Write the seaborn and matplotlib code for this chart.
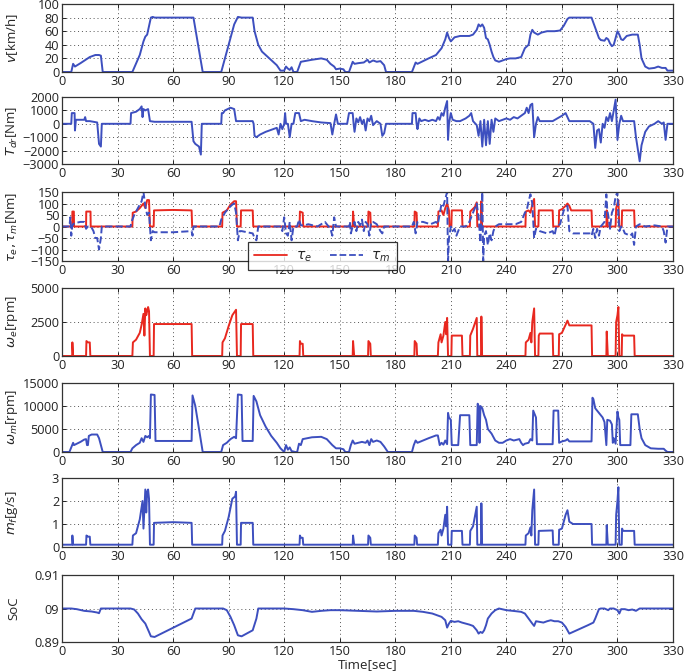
import numpy as np
import pandas as pd
import matplotlib
matplotlib.use("Agg")
import matplotlib.pyplot as plt
import seaborn as sns

# ---------------- data (time [s], value) ----------------
v_pts = [(0,0),(5,0),(6,12),(7,8),(10,13),(15,22),(18,25),(20,25),(21,24),(22,0),(38,0),(42,25),(44,45),
         (45,52),(46,55),(48,80),(49,81),(50,80),(71,80),(76,0),(86,0),(90,40),(93,70),(95,81),(97,80),
         (103,80),(104,60),(106,40),(108,30),(112,20),(116,10),(118,2),(120,2),(121,8),(122,5),(123,3),
         (124,7),(125,0),(127,0),(129,15),(135,18),(140,20),(143,18),(145,12),(147,8),(148,4),(150,5),
         (152,4),(153,0),(155,0),(157,15),(158,12),(160,13),(163,14),(165,18),(166,14),(168,17),(170,15),
         (172,16),(174,10),(175,0),(189,0),(191,14),(192,12),(195,16),(198,20),(202,25),(205,35),(207,48),
         (208,58),(209,50),(210,45),(212,51),(215,53),(220,53),(222,55),(224,62),(225,70),(226,67),(227,70),
         (228,65),(229,50),(230,48),(231,40),(232,30),(233,22),(234,17),(236,15),(238,17),(240,19),(242,20),
         (245,20),(248,22),(250,35),(252,40),(253,55),(254,62),(255,58),(257,55),(259,58),(262,60),(266,60),
         (269,61),(271,68),(273,78),(274,80),(286,80),(288,65),(290,50),(291,47),(293,46),(294,50),(295,48),
         (296,42),(297,38),(298,40),(300,60),(301,55),(302,48),(303,47),(305,53),(308,55),(311,55),(312,40),
         (313,20),(315,8),(317,5),(320,6),(322,8),(324,6),(326,6),(327,2),(330,2)]

tdr_pts = [(0,0),(5,0),(5.3,800),(6.8,800),(7,-500),(7.5,300),(12,300),(12.5,500),(13,200),(15,200),(19,100),
           (20,-1500),(21,-1700),(21.5,0),(37,0),(37.3,800),(40,900),(42,1100),(43,1300),(43.5,500),(44,1100),
           (45,1000),(46.5,1100),(47.5,200),(50,150),(70,150),(71,-1300),(72,-1500),(74,-1700),(75,-2300),
           (75.5,0),(86,0),(86.3,800),(87,800),(88,1000),(91,1200),(93,1100),(94,200),(103,200),(103.5,0),
           (104,-900),(105,-1000),(107,-800),(110,-600),(114,-400),(116,-300),(117,-800),(118,0),(119,-400),
           (120,0),(120.5,800),(121,0),(122,0),(123,-1000),(124,0),(125,0),(126,800),(128,800),(129,200),
           (131,300),(135,200),(140,100),(145,50),(146,-800),(147,0),(148,700),(149,0),(154,0),(155,800),
           (157,800),(157.5,0),(158,-600),(159,400),(160,100),(161,500),(162,0),(163,300),(164,-500),(165,400),
           (166,200),(167,600),(168,-100),(170,200),(172,0),(173,-900),(174,-700),(175,0),(189,0),(189.3,800),
           (191,800),(191.5,0),(192,-400),(193,400),(194,200),(196,300),(198,200),(200,300),(202,200),(203,500),
           (204,300),(205,800),(206,600),(207,1200),(208,1700),(208.5,-1200),(209,0),(210,800),(211,300),
           (213,200),(215,200),(218,400),(220,600),(221,800),(222,200),(224,-100),(225,-900),(226,200),
           (227,-1700),(228,300),(229,-1600),(230,200),(231,-1500),(232,300),(233,-600),(234,400),(236,200),
           (238,300),(240,400),(242,300),(244,500),(246,400),(248,600),(250,800),(251,1200),(252,800),
           (253,1400),(254,1500),(255,-1000),(256,0),(257,500),(258,200),(265,200),(270,600),(272,800),
           (274,200),(285,200),(287,0),(288,-1800),(289,-500),(290,-400),(291,-1400),(292,0),(293,-300),
           (294,500),(295,200),(296,800),(297,200),(298,1000),(299,1800),(300,-1200),(301,0),(302,600),
           (303,200),(309,200),(310,-1000),(312,-2800),(313,-1600),(315,-600),(317,-200),(320,0),(322,200),
           (324,0),(325,100),(326,-1200),(327,0),(330,0)]

taue_pts = [(0,0),(5.5,0),(5.6,65),(6.4,65),(6.5,0),(13,0),(13.1,65),(15.4,65),(15.5,0),(38,0),(38.2,60),
            (40,65),(42,80),(44,100),(45,80),(46,115),(47,115),(47.5,0),(49.5,0),(49.7,70),(60,72),(70,70),
            (70.3,0),(86.5,0),(86.7,60),(89,70),(91,95),(93,110),(94,110),(94.5,0),(96.5,0),(96.7,70),
            (103,70),(103.3,0),(128.3,0),(128.5,65),(130,60),(130.3,0),(157,0),(157.2,65),(157.8,0),
            (165.3,0),(165.5,65),(166.5,60),(166.8,0),(190.3,0),(190.5,65),(191.5,60),(191.8,0),(203,0),
            (203.3,65),(205,70),(206,50),(207,80),(208,100),(209,70),(209.3,0),(210.3,0),(210.5,70),
            (216,70),(216.3,0),(220.3,0),(220.5,65),(223,85),(224,105),(224.3,0),(226.3,0),(226.5,110),
            (226.9,0),(250.3,0),(250.5,65),(252,70),(253,60),(254,95),(255,120),(255.5,0),(257.3,0),
            (257.5,70),(265,70),(265.3,0),(268.3,0),(268.5,70),(270,75),(272,90),(273,100),(274,90),
            (275,70),(286,70),(286.3,0),(294,0),(294.2,70),(294.8,0),(299,0),(299.3,80),(300,100),
            (300.5,115),(301,0),(302.3,0),(302.5,70),(309,70),(309.3,0),(330,0)]

taum_pts = [(0,0),(4,0),(4.5,40),(5,-40),(5.5,0),(6,10),(7,15),(10,20),(12,20),(13,-10),(14,0),(15,0),
            (16,-5),(17,-20),(18,-50),(19,-50),(20,-100),(21,-50),(21.5,0),(37,0),(37.5,20),(39,50),(41,80),
            (43,110),(44,150),(45,90),(46,50),(47,60),(48,-60),(49,-20),(50,-25),(60,-25),(70,-20),(70.5,-40),
            (71,0),(85,0),(86,30),(88,60),(90,80),(92,95),(93,100),(94,60),(95,-60),(96,-20),(97,-20),
            (103,-30),(104,-50),(105,-60),(106,0),(118,0),(119,-20),(120,40),(121,-30),(122,-40),(123,20),
            (124,-60),(125,0),(127,0),(128,30),(129,5),(131,5),(133,10),(138,0),(142,20),(145,-10),(146,-40),
            (147,40),(148,0),(155,0),(155.5,20),(156,-30),(157,0),(158,20),(159,-20),(160,20),(161,5),(162,30),
            (163,-20),(164,20),(165,10),(166,-40),(167,20),(168,20),(170,10),(172,-20),(173,-30),(174,0),
            (189,0),(190,20),(191,-30),(192,20),(195,20),(199,10),(202,20),(203,10),(205,100),(206,90),
            (207,120),(208,150),(208.5,-150),(209,-50),(210,0),(211,-20),(212,-10),(213,-40),(215,0),
            (218,0),(220,20),(222,60),(224,100),(225,40),(226,-70),(227,150),(227.5,-150),(228,-40),
            (229,-20),(230,-80),(231,-30),(232,-60),(233,-20),(234,0),(236,10),(238,10),(242,10),(245,10),
            (248,20),(250,60),(251,70),(252,110),(253,140),(254,100),(255,-50),(256,-10),(258,-20),(262,-30),
            (265,-20),(266,-40),(267,0),(269,10),(271,70),(272,80),(273,90),(274,-20),(276,-30),(285,-30),
            (286,-40),(287,-10),(288,-50),(289,-10),(290,-40),(291,0),(293,20),(294,140),(294.5,70),(295,50),
            (296,-10),(297,60),(298,80),(299,130),(300,150),(300.5,50),(301,-20),(302,0),(303,-10),(304,-30),
            (307,-40),(308,-30),(309,-80),(310,0),(312,10),(315,0),(320,5),(324,0),(325,-20),(326,-70),
            (327,0),(330,0)]

we_pts = [(0,0),(5.5,0),(5.6,1000),(6,0),(13,0),(13.2,1100),(14,1000),(15,1000),(15.3,0),(38,0),(38.3,1000),
          (40,1200),(42,1700),(43,2300),(44,3100),(44.5,1500),(45,3500),(45.5,3000),(46,3300),(46.5,3600),
          (47,3300),(47.5,0),(49.5,0),(49.7,2350),(70,2350),(70.3,0),(86.5,0),(86.7,1000),(88,1300),
          (90,2200),(92,3000),(93,3200),(94,3400),(94.5,0),(96.5,0),(96.7,2350),(103,2350),(103.3,0),
          (128.3,0),(128.5,1100),(129,900),(130,900),(130.3,0),(157,0),(157.2,1100),(157.8,0),(165.3,0),
          (165.5,1100),(166.5,900),(166.8,0),(190.3,0),(190.5,1100),(191.5,900),(191.8,0),(203,0),
          (203.3,1000),(204.5,1600),(205,1000),(206,1500),(207,2500),(207.5,1600),(208,2800),(208.5,0),
          (210.3,0),(210.5,1500),(216,1500),(216.3,0),(220.3,0),(220.5,1500),(222,2000),(224,2800),
          (224.3,0),(226.3,0),(226.5,2900),(226.9,0),(250.3,0),(250.5,1000),(252,1200),(253,1700),
          (253.5,1000),(254,2500),(255,3500),(255.5,0),(257.3,0),(257.5,1500),(258,1650),(265,1650),
          (265.3,0),(268.3,0),(268.5,1600),(270,1700),(272,2300),(273,2600),(274,2250),(286,2250),
          (286.3,0),(294,0),(294.2,1800),(294.8,0),(299,0),(299.3,2500),(300,3000),(300.5,3600),(301,0),
          (302.3,0),(302.5,1600),(303,1500),(309,1500),(309.3,0),(330,0)]

wm_pts = [(0,0),(4,0),(5,1000),(6,2000),(6.5,1500),(8,1800),(10,2200),(12,2700),(13,2800),(13.5,1500),
          (14,1500),(14.5,3500),(16,3800),(18,3800),(19,3800),(20,3000),(22,0),(37,0),(38,800),(40,1500),
          (42,2000),(43,3000),(44,2200),(45,3500),(46,3200),(47,3500),(47.5,3000),(48,12500),(50,12400),
          (50.5,2400),(70,2400),(70.5,12300),(72,10000),(74,5000),(76,0),(86,0),(87,1500),(89,2000),
          (91,2800),(93,3300),(94,3000),(95,12500),(97,12400),(97.5,2400),(103,2400),(103.5,12200),
          (105,11000),(107,8000),(110,5500),(113,3500),(116,2000),(118,800),(120,0),(121,1500),(122,500),
          (123,1000),(124,200),(126,0),(127,0),(128,1800),(129,1500),(130,2800),(135,3200),(140,3300),
          (143,2800),(146,1500),(148,800),(150,800),(152,600),(153,0),(155,0),(156,1500),(157,2500),
          (158,1800),(160,2000),(162,2200),(164,2000),(165,2500),(166,1500),(167,2800),(168,2200),
          (170,2500),(172,2200),(174,1200),(176,0),(189,0),(190,1500),(191,2500),(192,2000),(195,2500),
          (198,3000),(202,3600),(203,3600),(204,1500),(205,2000),(206,1600),(207,2500),(208,1700),
          (208.5,8500),(209,7500),(210,7000),(210.5,1500),(214,1500),(215,8000),(220,8000),(220.5,1500),
          (224,1500),(224.5,10500),(225,10000),(225.5,2000),(226,10000),(227,9500),(228,8000),(229,7000),
          (230,5000),(232,4000),(234,2500),(236,2000),(238,2000),(240,2500),(242,2800),(244,2500),
          (247,2800),(248,2000),(249,1500),(250,1800),(252,2000),(253,2800),(254,2500),(254.5,9000),
          (255,8500),(256,7500),(256.5,1700),(265,1700),(265.5,9000),(268,9000),(268.5,2000),(270,2300),
          (272,2500),(273,2800),(274,2300),(286,2300),(286.5,11800),(287,11500),(288,9500),(290,8500),
          (292,7500),(293,6500),(294,1500),(294.5,7000),(296,6800),(297,6000),(297.5,2000),(298,3000),
          (299,1800),(300,8800),(300.5,7500),(301,7000),(301.5,1500),(307,1500),(307.5,8200),(311,8200),
          (312,5000),(313,3000),(315,1500),(318,800),(322,700),(325,700),(326,300),(327,0),(330,0)]

mf_pts = [(0,0.1),(5.5,0.1),(5.6,0.5),(6,0.1),(13,0.1),(13.2,0.5),(14,0.45),(15,0.45),(15.3,0.1),(38,0.1),
          (38.3,0.5),(40,0.6),(42,1.2),(43.5,2.0),(44,0.8),(45,2.5),(45.5,1.5),(46,2.4),(46.5,2.5),(47,2.1),
          (47.5,0.1),(49.5,0.1),(49.7,1.05),(60,1.08),(70,1.05),(70.3,0.1),(86.5,0.1),(86.7,0.5),(88,0.7),
          (90,1.3),(92,2.1),(93.5,2.2),(94,2.4),(94.5,0.1),(96.5,0.1),(96.7,1.05),(103,1.05),(103.3,0.1),
          (128.3,0.1),(128.5,0.5),(129,0.4),(130,0.4),(130.3,0.1),(157,0.1),(157.2,0.5),(157.8,0.1),
          (165.3,0.1),(165.5,0.5),(166.5,0.4),(166.8,0.1),(190.3,0.1),(190.5,0.5),(191.5,0.4),(191.8,0.1),
          (203,0.1),(203.3,0.6),(204.5,0.75),(205,0.5),(206,0.8),(207,1.4),(207.5,0.9),(208,1.75),
          (208.5,0.1),(210.3,0.1),(210.5,0.7),(216,0.7),(216.3,0.1),(220.3,0.1),(220.5,0.7),(222,0.9),
          (224,1.75),(224.3,0.1),(226.3,0.1),(226.5,1.9),(226.9,0.1),(250.3,0.1),(250.5,0.5),(252,0.6),
          (253,0.85),(253.5,0.5),(254,1.6),(255,2.5),(255.5,0.1),(257.3,0.1),(257.5,0.7),(265,0.72),
          (265.3,0.1),(268.3,0.1),(268.5,0.75),(270,0.8),(272,1.4),(273,1.6),(274,1.1),(276,1.0),(286,1.0),
          (286.3,0.1),(294,0.1),(294.2,0.95),(294.8,0.1),(299,0.1),(299.3,1.4),(300,2.0),(300.5,2.6),
          (301,0.1),(302.3,0.1),(302.5,0.8),(303,0.7),(309,0.7),(309.3,0.1),(330,0.1)]

soc_pts = [(0,0.9),(5,0.9),(8,0.8998),(12,0.8993),(16,0.8991),(19,0.8988),(20,0.8986),(21,0.9),(37,0.9),
           (39,0.8997),(41,0.8985),(43,0.8968),(45,0.8955),(47,0.893),(48,0.8917),(50,0.8915),(70,0.897),
           (72,0.9),(87,0.9),(89,0.8995),(91,0.8975),(93,0.895),(95,0.892),(97,0.8917),(103,0.8935),
           (105,0.897),(106,0.9),(120,0.9),(125,0.8998),(130,0.8995),(135,0.899),(140,0.8993),(145,0.8995),
           (150,0.8995),(160,0.8993),(170,0.8991),(180,0.8993),(190,0.8993),(195,0.899),(200,0.8985),
           (205,0.8975),(207,0.8965),(208,0.8943),(209,0.8955),(210,0.8963),(212,0.896),(214,0.8962),
           (216,0.8958),(218,0.8955),(220,0.8952),(222,0.8948),(224,0.8935),(225,0.8925),(226,0.893),
           (227,0.8927),(228,0.8935),(229,0.895),(230,0.897),(232,0.8985),(234,0.8995),(236,0.9),
           (240,0.8995),(245,0.8992),(248,0.899),(250,0.8985),(252,0.897),(254,0.8955),(255,0.8948),
           (256,0.8962),(258,0.896),(260,0.8958),(262,0.8962),(264,0.8965),(266,0.8962),(268,0.8962),
           (270,0.8958),(272,0.8945),(274,0.8925),(276,0.893),(280,0.894),(284,0.895),(287,0.8958),
           (288,0.897),(290,0.8998),(291,0.9),(293,0.9),(295,0.8995),(296,0.9),(298,0.9),(300,0.8995),
           (301,0.8985),(302,0.8998),(304,0.8998),(306,0.8995),(308,0.8997),(310,0.8993),(312,0.9),(330,0.9)]

x_ticks = [0, 30, 60, 90, 120, 150, 180, 210, 240, 270, 300, 330]
y_labels = [r"$v$[km/h]", r"$T_{dr}$[Nm]", r"$\tau_e, \tau_m$[Nm]", r"$\omega_e$[rpm]",
            r"$\omega_m$[rpm]", r"$m_f$[g/s]", "SoC"]
y_ticks = [[0, 20, 40, 60, 80, 100],
           [-3000, -2000, -1000, 0, 1000, 2000],
           [-150, -100, -50, 0, 50, 100, 150],
           [0, 2500, 5000],
           [0, 5000, 10000, 15000],
           [0, 1, 2, 3],
           [0.89, 0.90, 0.91]]
soc_tick_labels = ["0.89", "09", "0.91"]
legend_labels = [r"$\tau_e$", r"$\tau_m$"]

BLUE = "#3d4fbf"
RED = "#e8281f"

def frame(pts):
    a = np.array(pts, dtype=float)
    return pd.DataFrame({"t": a[:, 0], "y": a[:, 1]})

sns.set_theme(style="white")
plt.rcParams["font.family"] = ["Open Sans", "DejaVu Sans"]
plt.rcParams["mathtext.fontset"] = "dejavusans"

fig = plt.figure(figsize=(6.85, 6.72), dpi=100)
W, H = 685, 672
left, right = 62, 673
tops = [4, 97, 192, 288, 383, 478, 575]
bottoms = [72, 164, 261, 356, 452, 547, 642]
axes = []
for tp, bt in zip(tops, bottoms):
    axes.append(fig.add_axes([left / W, 1 - bt / H, (right - left) / W, (bt - tp) / H]))

series = [[(v_pts, BLUE, "-")], [(tdr_pts, BLUE, "-")],
          [(taue_pts, RED, "-"), (taum_pts, BLUE, "--")],
          [(we_pts, RED, "-")], [(wm_pts, BLUE, "-")], [(mf_pts, BLUE, "-")], [(soc_pts, BLUE, "-")]]

for i, ax in enumerate(axes):
    for pts, col, ls in series[i]:
        df = frame(pts)
        sns.lineplot(data=df, x="t", y="y", ax=ax, color=col, linestyle=ls, lw=1.4,
                     estimator=None, sort=False)
    ax.set_xlim(0, 330)
    ax.set_ylim(y_ticks[i][0], y_ticks[i][-1])
    ax.set_xticks(x_ticks)
    ax.set_yticks(y_ticks[i])
    if i == 6:
        ax.set_yticklabels(soc_tick_labels)
    ax.grid(True, color="#555555", linestyle=(0, (1, 3)), linewidth=0.7)
    for s in ax.spines.values():
        s.set_color("#333333")
        s.set_linewidth(0.9)
    ax.tick_params(direction="in", length=3, width=0.7, labelsize=9.2, pad=2, colors="#222222",
                   top=True, right=True, bottom=True, left=True)
    ax.set_xlabel("Time[sec]" if i == 6 else "", fontsize=9.5, labelpad=0)
    ax.set_ylabel(y_labels[i], fontsize=9.5)
    ax.yaxis.set_label_coords(-0.068, 0.5)

leg_handles = [plt.Line2D([], [], color=RED, lw=1.3, ls="-"),
               plt.Line2D([], [], color=BLUE, lw=1.3, ls="--")]
leg = axes[2].legend(leg_handles, legend_labels, loc="center", bbox_to_anchor=(0.426, 0.07),
                     ncol=2, frameon=True, fancybox=False, edgecolor="black", fontsize=10,
                     handlelength=2.4, columnspacing=1.3, handletextpad=0.6, borderpad=0.45)
leg.get_frame().set_linewidth(0.9)
leg.set_zorder(10)

fig.savefig("out.png", dpi=100)
